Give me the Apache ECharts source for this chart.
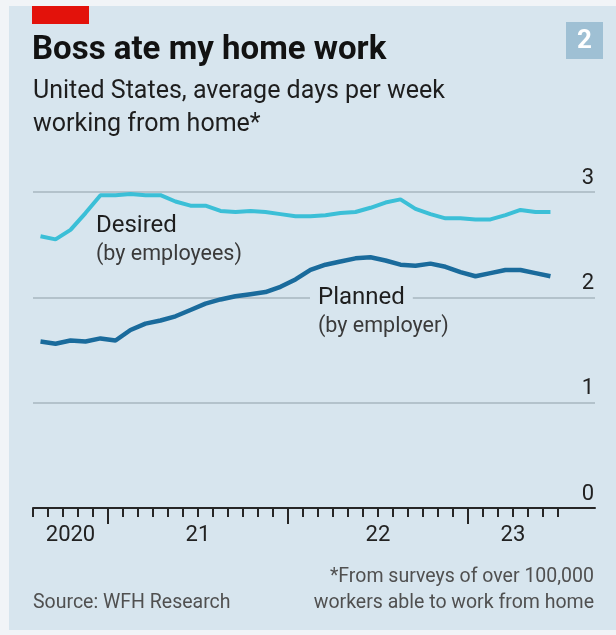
<!DOCTYPE html>
<html>
<head>
<meta charset="utf-8">
<title>Boss ate my home work</title>
<script src="https://cdn.jsdelivr.net/npm/echarts@6.0.0/dist/echarts.min.js"></script>
<style>
  html, body { margin: 0; padding: 0; background: #f1f4f7; }
  #chart { width: 616px; height: 635px; }
</style>
</head>
<body>
<div id="chart"></div>
<script>
// 月份：2020年8月 到 2023年6月（每月一个点）
var startMonth = -5; // 2020年8月，相对2021年1月
var desired = [2.58, 2.55, 2.64, 2.80, 2.97, 2.97, 2.98, 2.97, 2.97, 2.91, 2.87, 2.87,
               2.82, 2.81, 2.82, 2.81, 2.79, 2.77, 2.77, 2.78, 2.80, 2.81, 2.85, 2.90,
               2.93, 2.84, 2.79, 2.75, 2.75, 2.74, 2.74, 2.78, 2.83, 2.81, 2.81];
var planned = [1.58, 1.56, 1.59, 1.58, 1.61, 1.59, 1.69, 1.75, 1.78, 1.82, 1.88, 1.94,
               1.98, 2.01, 2.03, 2.05, 2.10, 2.17, 2.26, 2.31, 2.34, 2.37, 2.38, 2.35,
               2.31, 2.30, 2.32, 2.29, 2.24, 2.20, 2.23, 2.26, 2.26, 2.23, 2.20];
// x轴年份标签及其位置（可见区间的中点）
var yearLabels = ['2020', '21', '22', '23'];
var yearLabelPos = [-2.5, 6, 18, 27];
var yTicks = [0, 1, 2, 3];

var FONT = 'Roboto, "Noto Sans", sans-serif';
var TICK = { color: '#262626', width: 2 };

function toPoints(arr) {
  return arr.map(function (v, i) { return [startMonth + i + 0.5, v]; });
}
var nMonths = desired.length;

var myChart = echarts.init(document.getElementById('chart'));

var hiddenY = {
  type: 'value', min: 0, max: 3, show: false
};

var option = {
  backgroundColor: '#f1f4f7',
  animation: false,
  grid: [
    // 主图
    { left: 33, right: 21, top: 192, bottom: 127 },
    // 月刻度
    { left: 33, right: 616 - (33 + 15 * nMonths), top: 192, bottom: 127 },
    // 年刻度（2021年1月 到 2023年1月）
    { left: 33 + 15 * 5, right: 616 - (33 + 15 * 29), top: 192, bottom: 127 }
  ],
  xAxis: [{
    type: 'value',
    gridIndex: 0,
    min: startMonth,
    max: 32.47,
    axisLine: { show: true, onZero: false, lineStyle: TICK },
    axisTick: { show: false },
    axisLabel: {
      customValues: yearLabelPos,
      formatter: function (v) { return yearLabels[yearLabelPos.indexOf(v)]; },
      color: '#222', fontSize: 22, fontFamily: FONT, margin: 16
    },
    splitLine: { show: false }
  }, {
    type: 'value',
    gridIndex: 1,
    min: 0,
    max: nMonths,
    interval: 1,
    axisLine: { show: false, onZero: false },
    axisTick: { show: true, length: 9, lineStyle: TICK },
    axisLabel: { show: false },
    splitLine: { show: false }
  }, {
    type: 'value',
    gridIndex: 2,
    min: 0,
    max: 24,
    interval: 12,
    axisLine: { show: false, onZero: false },
    axisTick: { show: true, length: 16, lineStyle: TICK },
    axisLabel: { show: false },
    splitLine: { show: false }
  }],
  yAxis: [{
    type: 'value',
    gridIndex: 0,
    position: 'right',
    min: 0,
    max: 3,
    interval: 1,
    axisLine: { show: false },
    axisTick: { show: false },
    axisLabel: {
      inside: true,
      margin: 1,
      verticalAlign: 'bottom',
      padding: [0, 0, 3, 0],
      color: '#222', fontSize: 22, fontFamily: FONT,
      formatter: function (v) { return yTicks.indexOf(v) >= 0 ? String(v) : ''; }
    },
    splitLine: { lineStyle: { color: '#a7b6bf', width: 1.5 } }
  },
  Object.assign({ gridIndex: 1 }, hiddenY),
  Object.assign({ gridIndex: 2 }, hiddenY)],
  series: [{
    name: 'Desired',
    type: 'line',
    data: toPoints(desired),
    showSymbol: false,
    lineStyle: { color: '#3bbfd7', width: 4 },
    z: 3
  }, {
    name: 'Planned',
    type: 'line',
    data: toPoints(planned),
    showSymbol: false,
    lineStyle: { color: '#1a6b9c', width: 4.5 },
    z: 4
  }],
  graphic: [
    // 背景面板
    { type: 'rect', z: -10, shape: { x: 9, y: 6, width: 607, height: 624 }, style: { fill: '#d7e5ee' } },
    // 红色标记
    { type: 'rect', z: 10, shape: { x: 32, y: 6, width: 57, height: 18 }, style: { fill: '#e3120b' } },
    // 编号框
    { type: 'rect', z: 10, shape: { x: 566, y: 22, width: 37, height: 37 }, style: { fill: '#9fc0d4' } },
    { type: 'text', z: 11, x: 584.5, y: 41, style: { text: '2', fill: '#fff', font: 'bold 26px ' + FONT, textAlign: 'center', textVerticalAlign: 'middle' } },
    // 标题
    { type: 'text', z: 10, x: 32, y: 51, style: { text: 'Boss ate my home work', fill: '#121212', font: 'bold 33px ' + FONT, textVerticalAlign: 'middle' } },
    { type: 'text', z: 10, x: 33, y: 92, style: { text: 'United States, average days per week', fill: '#1e1e1e', font: '25px ' + FONT, textVerticalAlign: 'middle' } },
    { type: 'text', z: 10, x: 33, y: 125, style: { text: 'working from home*', fill: '#1e1e1e', font: '25px ' + FONT, textVerticalAlign: 'middle' } },
    // 线条标注
    { type: 'text', z: 10, x: 96, y: 226, style: { text: 'Desired', fill: '#1e1e1e', font: '24px ' + FONT, textVerticalAlign: 'middle' } },
    { type: 'text', z: 10, x: 96, y: 255, style: { text: '(by employees)', fill: '#3a3a3a', font: '21.5px ' + FONT, textVerticalAlign: 'middle' } },
    { type: 'text', z: 10, x: 310, y: 298, style: { text: 'Planned', fill: '#1e1e1e', font: '24px ' + FONT, textVerticalAlign: 'middle', backgroundColor: '#d7e5ee', padding: [0, 8, 0, 8] } },
    { type: 'text', z: 10, x: 318, y: 327, style: { text: '(by employer)', fill: '#3a3a3a', font: '21.5px ' + FONT, textVerticalAlign: 'middle' } },
    // 脚注
    { type: 'text', z: 10, x: 33, y: 603, style: { text: 'Source: WFH Research', fill: '#505050', font: '19.5px ' + FONT, textVerticalAlign: 'middle' } },
    { type: 'text', z: 10, x: 594, y: 577, style: { text: '*From surveys of over 100,000', fill: '#505050', font: '19.5px ' + FONT, textAlign: 'right', textVerticalAlign: 'middle' } },
    { type: 'text', z: 10, x: 594, y: 603, style: { text: 'workers able to work from home', fill: '#505050', font: '19.5px ' + FONT, textAlign: 'right', textVerticalAlign: 'middle' } }
  ]
};

myChart.setOption(option);
</script>
</body>
</html>
